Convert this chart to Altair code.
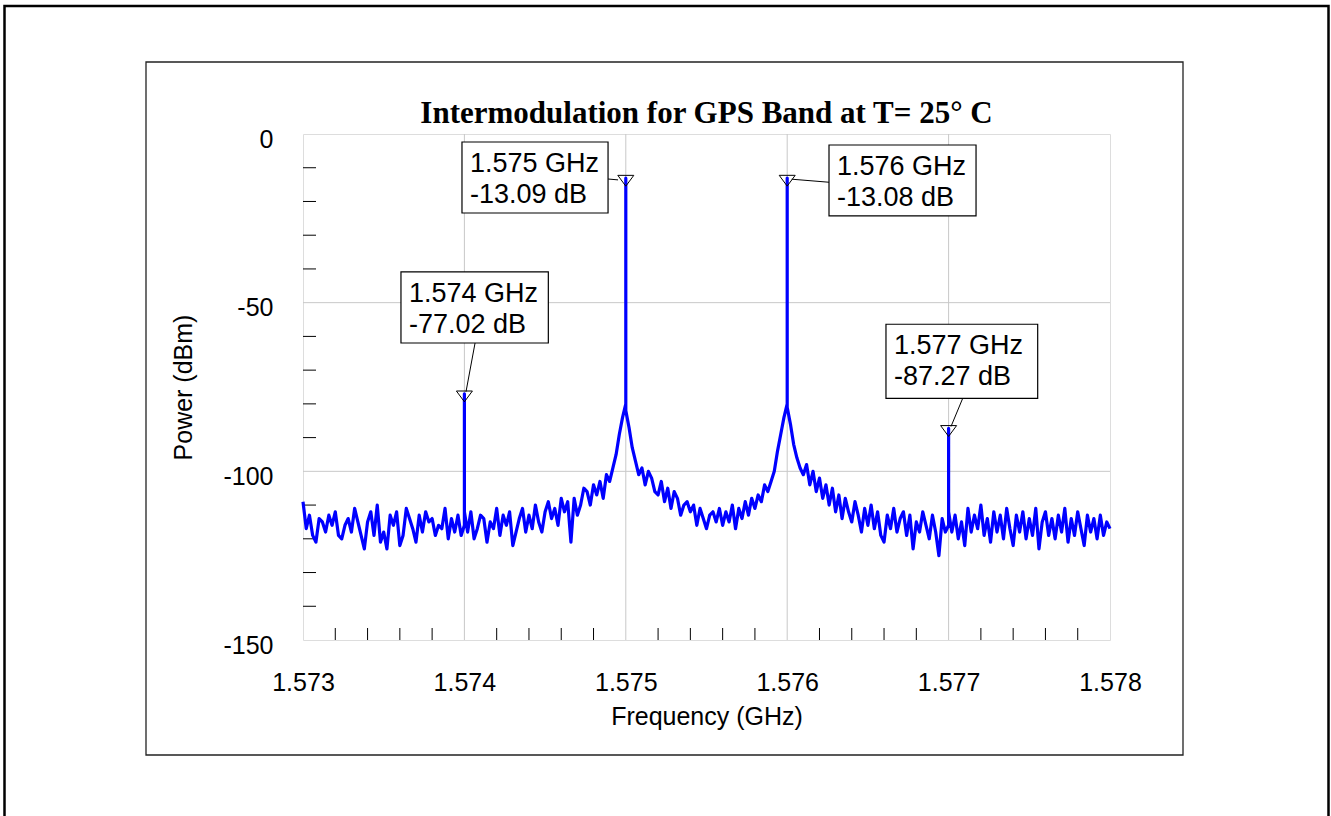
import altair as alt
import pandas as pd

# ---------------- data ----------------
# spectrum analyser sweep: 1.573 GHz .. 1.578 GHz, one sample every 20 kHz
freq_start = 1.573
freq_step = 0.00002
power = [
    # 1.5730 .. 1.57398
    -109, -117, -113, -119, -121, -114, -115, -118, -113, -116,
    -112, -119, -120, -116, -114, -118, -111, -115, -119, -123,
    -115, -112, -119, -110, -121, -118, -123, -113, -116, -112,
    -122, -119, -111, -114, -117, -121, -113, -118, -112, -115,
    -114, -119, -116, -117, -111, -120, -114, -118, -113, -119,
    # 1.5740 (base under spur)
    -116,
    -118, -112, -120, -117, -113, -114, -121, -115, -117,
    -111, -119, -113, -116, -112, -122, -118, -114, -111, -118,
    -113, -117, -110, -115, -118, -112, -109, -114, -111, -116,
    -108, -112, -109, -121, -108, -113, -110, -105, -106, -110,
    -104, -107, -103, -108, -101, -103, -99, -95, -89, -84,
    # 1.5750 (base under tone)
    -80,
    -87, -93, -97, -101, -99, -104, -100, -102, -106,
    -107, -103, -109, -105, -111, -106, -108, -113, -110, -109,
    -112, -110, -116, -111, -114, -117, -113, -112, -115, -111,
    -116, -112, -115, -110, -117, -111, -114, -109, -113, -108,
    -111, -107, -109, -104, -106, -103, -100, -94, -89, -84,
    # 1.5760 (base under tone)
    -80,
    -86, -92, -96, -99, -101, -98, -104, -100, -106,
    -102, -108, -104, -110, -105, -112, -107, -114, -108, -112,
    -115, -109, -113, -118, -111, -116, -110, -117, -112, -119,
    -121, -113, -117, -111, -118, -114, -112, -119, -113, -123,
    -115, -118, -112, -116, -120, -113, -118, -125, -114, -118,
    # 1.5770 (base under spur)
    -116,
    -118, -113, -120, -115, -122, -111, -118, -113, -117,
    -110, -119, -114, -121, -112, -118, -113, -120, -111, -117,
    -122, -113, -118, -112, -120, -114, -119, -111, -123, -115,
    -112, -119, -114, -120, -113, -118, -111, -121, -114, -119,
    -112, -117, -122, -113, -118, -114, -120, -113, -119, -115,
    # 1.5780
    -117,
]
assert len(power) == 251

# marked spurs / tones
peak_freq = [1.574, 1.575, 1.576, 1.577]
peak_power = [-77.02, -13.09, -13.08, -87.27]
peak_return = [-112, -82, -81, -112]   # level right after each spike

# axes
x_tick_values = [1.573, 1.574, 1.575, 1.576, 1.577, 1.578]
y_tick_values = [-150, -100, -50, 0]
grid_freq = [1.574, 1.575, 1.576, 1.577]
grid_power = [-50, -100]
x_minor = [1.5732, 1.5734, 1.5736, 1.5738, 1.5742, 1.5744, 1.5746, 1.5748,
           1.5752, 1.5754, 1.5756, 1.5758, 1.5762, 1.5764, 1.5766, 1.5768,
           1.5772, 1.5774, 1.5776, 1.5778]
y_minor = [-140, -130, -120, -110, -90, -80, -70, -60, -40, -30, -20, -10]

chart_title = "Intermodulation for GPS Band at T= 25° C"

# annotation boxes (data coordinates), same order as peak_freq
box_left = [1.573607, 1.573985, 1.576259, 1.576612]
box_right = [1.574520, 1.574890, 1.577170, 1.577552]
box_top = [-40.9, -2.37, -3.26, -56.4]
box_bottom = [-61.96, -23.42, -24.3, -78.4]
conn_f1 = [1.574066, 1.574890, 1.576259, 1.577087]
conn_p1 = [-61.96, -13.34, -14.3, -78.4]
conn_f2 = [1.574010, 1.574952, 1.576028, 1.577015]
conn_p2 = [-76.4, -13.6, -13.4, -86.7]

# ---------------- tables ----------------
rows = []
o = 0
peak_lookup = {round(f, 6): (p, r) for f, p, r in zip(peak_freq, peak_power, peak_return)}
for i, p in enumerate(power):
    f = round(freq_start + i * freq_step, 6)
    rows.append({"f": f, "p": p, "o": o}); o += 1
    if f in peak_lookup:
        pk, rt = peak_lookup[f]
        rows.append({"f": f, "p": pk, "o": o}); o += 1
        rows.append({"f": f, "p": rt, "o": o}); o += 1
trace = pd.DataFrame(rows)

ann = pd.DataFrame({
    "f": peak_freq, "p": peak_power,
    "label": [f"{f:.3f} GHz\n{p:.2f} dB" for f, p in zip(peak_freq, peak_power)],
    "bl": box_left, "br": box_right, "bt": box_top, "bb": box_bottom,
    "cf1": conn_f1, "cp1": conn_p1, "cf2": conn_f2, "cp2": conn_p2,
})

W, H = 807, 506
FONT = "Liberation Sans"

xscale = alt.Scale(domain=[1.573, 1.578], nice=False, zero=False)
yscale = alt.Scale(domain=[-150, 0], nice=False, zero=False)
xaxis = alt.Axis(values=x_tick_values, labelExpr="format(datum.value, '.3f')",
                 labelFont=FONT, labelFontSize=25, labelColor="black",
                 labelPadding=30, labelFlush=False, labelOverlap=False,
                 ticks=False, domain=False, grid=False,
                 title="Frequency (GHz)", titleFont=FONT, titleFontSize=25,
                 titleFontWeight="normal", titleColor="black",
                 titleY=76, titleBaseline="middle")
yaxis = alt.Axis(values=y_tick_values, labelExpr="datum.value + ''",
                 labelFont=FONT, labelFontSize=25, labelColor="black",
                 labelPadding=30, labelFlush=False, labelOverlap=False,
                 labelBaseline="middle", labelOffset=5,
                 ticks=False, domain=False, grid=False,
                 title="Power (dBm)", titleFont=FONT, titleFontSize=25,
                 titleFontWeight="normal", titleColor="black",
                 titleX=-120, titleY=253, titleAngle=270,
                 titleBaseline="middle", titleAlign="center")


def X(field):
    return alt.X(field, type="quantitative", scale=xscale, axis=xaxis)


def Y(field):
    return alt.Y(field, type="quantitative", scale=yscale, axis=yaxis)


base_axes = alt.Chart(pd.DataFrame({"f": [1.573], "p": [-150.0]})).mark_point(opacity=0).encode(
    x=X("f"), y=Y("p"))

gx = alt.Chart(pd.DataFrame({"f": grid_freq})).mark_rule(color="#c8c8c8", strokeWidth=1).encode(
    x=X("f"), y=alt.value(0), y2=alt.value(H))
gy = alt.Chart(pd.DataFrame({"p": grid_power})).mark_rule(color="#c8c8c8", strokeWidth=1).encode(
    y=Y("p"), x=alt.value(0), x2=alt.value(W))

tx = alt.Chart(pd.DataFrame({"f": x_minor})).mark_tick(
    orient="vertical", size=12, thickness=1, color="black", opacity=1).encode(
    x=X("f"), y=alt.value(H - 6))
ty = alt.Chart(pd.DataFrame({"p": y_minor})).mark_tick(
    orient="horizontal", size=13, thickness=1, color="black", opacity=1).encode(
    y=Y("p"), x=alt.value(6.5))

line = alt.Chart(trace).mark_line(color="#0000ff", strokeWidth=3.2, strokeJoin="round").encode(
    x=X("f"), y=Y("p"), order=alt.Order("o:Q"))

conn = alt.Chart(ann).mark_rule(color="black", strokeWidth=1).encode(
    x=X("cf1"), y=Y("cp1"), x2=alt.X2("cf2"), y2=alt.Y2("cp2"))

boxes = alt.Chart(ann).mark_rect(fill="white", stroke="black", strokeWidth=1.2).encode(
    x=X("bl"), x2=alt.X2("br"), y=Y("bt"), y2=alt.Y2("bb"))

texts = alt.Chart(ann).mark_text(
    align="left", baseline="alphabetic", dx=8, dy=30, font=FONT, fontSize=27,
    lineBreak="\n", lineHeight=31, color="black").encode(
    x=X("bl"), y=Y("bt"), text="label:N")

tri = alt.Chart(ann).mark_point(
    shape="M-1,-0.35L1,-0.35L0,1Z", size=256, filled=False, stroke="black",
    strokeWidth=1, opacity=1).encode(x=X("f"), y=Y("p"))

one = pd.DataFrame({"k": [0]})
title_mark = alt.Chart(pd.DataFrame({"t": [chart_title]})).mark_text(
    align="center", baseline="alphabetic", font="Liberation Serif", fontSize=31,
    fontWeight="bold", color="black").encode(
    x=alt.value(W / 2), y=alt.value(-11), text="t:N")
inner_box = alt.Chart(one).mark_rect(fill="transparent", stroke="#222222", strokeWidth=1.3).encode(
    x=alt.value(146 - 303), x2=alt.value(1183 - 303),
    y=alt.value(62 - 134), y2=alt.value(755 - 134))
outer_box = alt.Chart(one).mark_rect(fill="transparent", stroke="black", strokeWidth=2.5).encode(
    x=alt.value(4.5 - 303), x2=alt.value(1328.5 - 303),
    y=alt.value(6 - 134), y2=alt.value(830 - 134))

chart = alt.layer(
    base_axes, gx, gy, tx, ty, line, conn, boxes, texts, tri, title_mark, inner_box, outer_box
).properties(
    width=W, height=H,
    autosize=alt.AutoSizeParams(type="none"),
    padding={"left": 303, "top": 134, "right": 221, "bottom": 176},
).configure_view(stroke="black", strokeWidth=1.3).configure(background="white")

chart.save("out.html", embed_options={"renderer": "svg", "actions": False})
